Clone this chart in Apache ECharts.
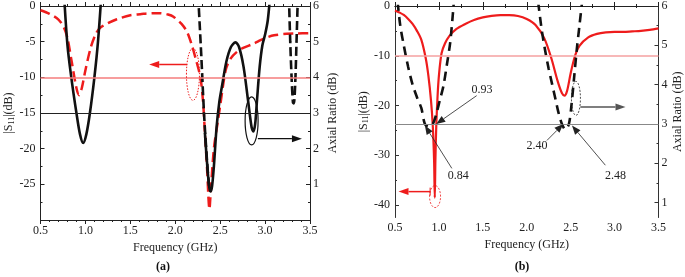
<!DOCTYPE html>
<html>
<head>
<meta charset="utf-8">
<script src="https://cdn.jsdelivr.net/npm/echarts@6/dist/echarts.min.js"></script>
<style>
html, body { margin: 0; padding: 0; background: #fff; }
#main { width: 685px; height: 277px; }
</style>
</head>
<body>
<div id="main"></div>
<script>
// (a) 反射系数 |S11| 红色虚线
var s11A = [
    [0.5, -0.6], [0.6, -1.1], [0.7, -1.9], [0.76, -3.0], [0.8, -4.5], [0.85, -8.0], [0.9, -11.5],
    [0.93, -12.5], [0.96, -11.5], [1.0, -9], [1.06, -5.8], [1.12, -3.8], [1.17, -3.0], [1.25, -2.4],
    [1.35, -1.85], [1.5, -1.3], [1.61, -1.15], [1.75, -1.0], [1.83, -1.0], [1.92, -1.2], [1.98, -1.5],
    [2.07, -2.5], [2.13, -3.6], [2.18, -5.3], [2.23, -7.5], [2.28, -10], [2.31, -13.5], [2.33, -17.8],
    [2.355, -23], [2.37, -27], [2.38, -28.5], [2.395, -26], [2.43, -20], [2.47, -16.5], [2.5, -14],
    [2.54, -10.5], [2.57, -8.6], [2.62, -7.3], [2.68, -6.5], [2.75, -5.9], [2.87, -5.3], [2.95, -4.8],
    [3.02, -4.4], [3.1, -4.1], [3.24, -3.9], [3.35, -3.85], [3.5, -3.8]
];
// (a) 轴比 AR 黑色实线
var arA = [
    [0.76, 6.4], [0.8, 4.9], [0.84, 4.05], [0.9, 3.0], [0.94, 2.4], [0.975, 2.16], [1.01, 2.4],
    [1.05, 3.0], [1.1, 4.0], [1.14, 5.0], [1.18, 6.4], null,
    [2.33, 2.45], [2.36, 1.4], [2.38, 0.9], [2.395, 0.8], [2.41, 0.95], [2.43, 1.5], [2.46, 2.6],
    [2.49, 3.3], [2.52, 3.75], [2.57, 4.45], [2.62, 4.85], [2.67, 4.98], [2.71, 4.85], [2.76, 4.3],
    [2.81, 3.36], [2.85, 2.6], [2.87, 2.48], [2.89, 2.7], [2.91, 3.36], [2.94, 4.3], [2.97, 4.9],
    [3.0, 5.2], [3.03, 5.6], [3.06, 6.4]
];
// (a) 轴比 黑色虚线
var arDashA = [
    [2.255, 6.3], [2.29, 4.6], [2.32, 3.0], [2.35, 1.8], [2.375, 1.0], [2.39, 0.8], null,
    [3.265, 6.3], [3.28, 5.0], [3.295, 4.0], [3.31, 3.3], [3.32, 3.27], [3.335, 3.8], [3.35, 5.0], [3.365, 6.3]
];
// (b) 反射系数 红色实线
var s11B = [
    [0.5, -0.9], [0.55, -1.3], [0.6, -1.8], [0.65, -2.6], [0.7, -3.6], [0.75, -5.0], [0.8, -6.8],
    [0.85, -10.5], [0.88, -14], [0.91, -19], [0.93, -24], [0.945, -31], [0.953, -38.5], [0.96, -31],
    [0.97, -24], [0.985, -18], [1.0, -14], [1.03, -9.5], [1.07, -7.5], [1.12, -6], [1.2, -4.6],
    [1.3, -3.6], [1.4, -2.8], [1.5, -2.3], [1.6, -2.0], [1.7, -1.85], [1.8, -1.85], [1.9, -2.0],
    [2.0, -2.6], [2.1, -3.8], [2.2, -6.5], [2.28, -10.5], [2.35, -15], [2.4, -17.5], [2.43, -18],
    [2.46, -17], [2.5, -13.5], [2.55, -10], [2.6, -8], [2.7, -6.3], [2.8, -5.6], [2.9, -5.3],
    [3.0, -5.2], [3.1, -5.2], [3.2, -5.1], [3.3, -5.0], [3.4, -4.8], [3.5, -4.5]
];
// (b) 轴比 黑色虚线
var arB = [
    [0.53, 6.1], [0.56, 5.5], [0.6, 5.0], [0.65, 4.45], [0.7, 4.0], [0.75, 3.68], [0.8, 3.4],
    [0.84, 3.0], [0.885, 2.93], [0.93, 3.0], [0.97, 3.25], [1.01, 3.6], [1.05, 3.95], [1.09, 4.5],
    [1.13, 5.1], [1.17, 6.1], null,
    [2.13, 6.1], [2.17, 5.4], [2.21, 4.86], [2.25, 4.4], [2.29, 4.0], [2.33, 3.6], [2.36, 3.3],
    [2.40, 3.0], [2.44, 2.86], [2.48, 3.0], [2.51, 3.5], [2.54, 4.2], [2.57, 4.9], [2.6, 5.5], [2.63, 6.1]
];
// 刻度
var s11TicksB = [0, -10, -20, -30, -40];
var s11MinorB = [-5, -15, -25, -35];
var arTicksB = [1, 2, 3, 4, 5, 6];
var arMinorB = [1.5, 2.5, 3.5, 4.5, 5.5];
// 标注频点
var bandLabels = ['0.93', '0.84', '2.40', '2.48'];

var myChart = echarts.init(document.getElementById('main'));

var FONT = 'Liberation Serif';
var RED = '#ee1c1c';

function xAx(grid, pos, interval, minorSplit, showLabel, margin, nameGap) {
    return {
        type: 'value', gridIndex: grid, position: pos, min: 0.5, max: 3.5, interval: interval,
        name: showLabel ? 'Frequency (GHz)' : '', nameLocation: 'middle', nameGap: nameGap,
        nameTextStyle: { fontFamily: FONT, fontSize: 12, color: '#222' },
        axisLine: { show: true, lineStyle: { color: '#222', width: 1 } },
        axisTick: { show: true, inside: true, length: 4, lineStyle: { color: '#222' } },
        minorTick: { show: true, splitNumber: minorSplit, length: 2, lineStyle: { color: '#222' } },
        axisLabel: {
            show: showLabel, margin: margin, fontFamily: FONT, fontSize: 12, color: '#222',
            formatter: function (v) { return v.toFixed(1); }
        },
        splitLine: { show: false }
    };
}

function yLab(fmt, margin, custom) {
    var o = { fontFamily: FONT, fontSize: 12, color: '#222', margin: margin };
    if (fmt) o.formatter = fmt;
    if (custom) o.customValues = custom;
    return o;
}

var s11Name = '|S{sub|11}|(dB)';
var s11NameStyle = {
    fontFamily: FONT, fontSize: 12, color: '#222',
    rich: { sub: { fontFamily: FONT, fontSize: 8, color: '#222', padding: [5, 0, 0, 0] } }
};

var option = {
    animation: false,
    backgroundColor: '#fff',
    grid: [
        { left: 40.5, top: 5, width: 269.5, height: 215 },
        { left: 395, top: 5, width: 263.5, height: 212.5 }
    ],
    xAxis: [
        xAx(0, 'bottom', 0.5, 5, true, 5, 17),
        xAx(0, 'top', 0.5, 5, false, 5, 0),
        xAx(1, 'bottom', 0.5, 2, true, 4, 15),
        xAx(1, 'top', 0.5, 2, false, 4, 0)
    ],
    yAxis: [
        {
            type: 'value', gridIndex: 0, position: 'left', min: -30, max: 0, interval: 5,
            name: s11Name, nameLocation: 'middle', nameGap: 24, nameRotate: 90, nameTextStyle: s11NameStyle,
            axisLine: { show: true, lineStyle: { color: '#222' } },
            axisTick: { inside: true, length: 4 },
            minorTick: { show: true, splitNumber: 2, length: 2 },
            axisLabel: yLab(function (v) { return v === -30 ? '' : String(v); }, 5),
            splitLine: { show: false }
        },
        {
            type: 'value', gridIndex: 0, position: 'right', min: 0, max: 6, interval: 1,
            name: 'Axial Ratio (dB)', nameLocation: 'middle', nameGap: 17, nameRotate: 90,
            nameTextStyle: { fontFamily: FONT, fontSize: 12, color: '#222' },
            axisLine: { show: true, lineStyle: { color: '#222' } },
            axisTick: { inside: true, length: 4 },
            minorTick: { show: true, splitNumber: 2, length: 2 },
            axisLabel: yLab(function (v) { return v === 0 ? '' : String(v); }, 3),
            splitLine: { show: false }
        },
        {
            type: 'value', gridIndex: 1, position: 'left', min: -42.5, max: 0,
            name: s11Name, nameLocation: 'middle', nameGap: 24, nameRotate: 90, nameTextStyle: s11NameStyle,
            axisLine: { show: true, lineStyle: { color: '#333' } },
            axisTick: { inside: true, length: 4, customValues: s11TicksB },
            axisLabel: yLab(null, 5, s11TicksB),
            splitLine: { show: false }
        },
        {
            type: 'value', gridIndex: 1, position: 'right', min: 0.62, max: 6,
            name: 'Axial Ratio (dB)', nameLocation: 'middle', nameGap: 13, nameRotate: 90,
            nameTextStyle: { fontFamily: FONT, fontSize: 12, color: '#222' },
            axisLine: { show: true, lineStyle: { color: '#333' } },
            axisTick: { inside: true, length: 4, customValues: arTicksB },
            axisLabel: yLab(null, 3, arTicksB),
            splitLine: { show: false }
        },
        // 次刻度 (b)
        {
            type: 'value', gridIndex: 1, position: 'left', min: -42.5, max: 0,
            axisLine: { show: false }, axisLabel: { show: false },
            axisTick: { show: true, inside: true, length: 2, customValues: s11MinorB, lineStyle: { color: '#333' } },
            splitLine: { show: false }
        },
        {
            type: 'value', gridIndex: 1, position: 'right', min: 0.62, max: 6,
            axisLine: { show: false }, axisLabel: { show: false },
            axisTick: { show: true, inside: true, length: 2, customValues: arMinorB, lineStyle: { color: '#333' } },
            splitLine: { show: false }
        }
    ],
    series: [
        {
            name: 'S11 a', type: 'line', xAxisIndex: 0, yAxisIndex: 0, data: s11A,
            showSymbol: false, smooth: 0.3, z: 3,
            lineStyle: { color: RED, width: 2.5, type: [10, 5] },
            markLine: {
                silent: true, symbol: 'none', label: { show: false },
                lineStyle: { color: '#f47c7c', width: 1.5, type: 'solid', opacity: 1 },
                data: [{ yAxis: -10 }]
            }
        },
        {
            name: 'AR a', type: 'line', xAxisIndex: 0, yAxisIndex: 1, data: arA,
            showSymbol: false, smooth: 0.3, z: 4,
            lineStyle: { color: '#111', width: 2.6 },
            markLine: {
                silent: true, symbol: 'none', label: { show: false },
                lineStyle: { color: '#222', width: 1, type: 'solid' },
                data: [{ yAxis: 3 }]
            }
        },
        {
            name: 'AR dash a', type: 'line', xAxisIndex: 0, yAxisIndex: 1, data: arDashA,
            showSymbol: false, smooth: 0.3, z: 4,
            lineStyle: { color: '#111', width: 2.6, type: [9, 4] }
        },
        {
            name: 'S11 b', type: 'line', xAxisIndex: 2, yAxisIndex: 2, data: s11B,
            showSymbol: false, smooth: 0.3, z: 3,
            lineStyle: { color: RED, width: 2.2 },
            markLine: {
                silent: true, symbol: 'none', label: { show: false },
                lineStyle: { color: '#f4a0a0', width: 1.5, type: 'solid' },
                data: [{ yAxis: -10 }]
            }
        },
        {
            name: 'AR b', type: 'line', xAxisIndex: 2, yAxisIndex: 3, data: arB,
            showSymbol: false, smooth: 0.3, z: 4,
            lineStyle: { color: '#111', width: 2.6, type: [9, 6] },
            markLine: {
                silent: true, symbol: 'none', label: { show: false },
                lineStyle: { color: '#888', width: 1.2, type: 'solid' },
                data: [{ yAxis: 3 }]
            }
        }
    ]
};

myChart.setOption(option);

// 标注（数据坐标 -> 像素）
function px(xi, yi, p) {
    return myChart.convertToPixel({ xAxisIndex: xi, yAxisIndex: yi }, p);
}
function arrow(xi, yi, from, to, color, width, head) {
    var a = px(xi, yi, from), b = px(xi, yi, to);
    var dx = b[0] - a[0], dy = b[1] - a[1], len = Math.sqrt(dx * dx + dy * dy);
    var ux = dx / len, uy = dy / len, hl = head[0], hw = head[1];
    var bx = b[0] - ux * hl, by = b[1] - uy * hl;
    return [
        { type: 'line', shape: { x1: a[0], y1: a[1], x2: bx, y2: by }, style: { stroke: color, lineWidth: width }, z: 10 },
        {
            type: 'polygon', z: 10,
            shape: { points: [[b[0], b[1]], [bx - uy * hw, by + ux * hw], [bx + uy * hw, by - ux * hw]] },
            style: { fill: color }
        }
    ];
}
function ellipse(xi, yi, c, rx, ry, color, dash, width) {
    var p = px(xi, yi, c);
    return {
        type: 'ellipse', z: 10, shape: { cx: p[0], cy: p[1], rx: rx, ry: ry },
        style: { fill: 'none', stroke: color, lineWidth: width, lineDash: dash }
    };
}
function text(xi, yi, c, t) {
    var p = px(xi, yi, c);
    return {
        type: 'text', z: 10, x: p[0], y: p[1],
        style: { text: t, fontFamily: FONT, fontSize: 12, fill: '#222', align: 'center', verticalAlign: 'middle' }
    };
}

var g = [];
// (a)
g.push(ellipse(0, 0, [2.197, -9.58], 6.5, 26, RED, [1.5, 1.5], 1));
g = g.concat(arrow(0, 0, [2.133, -8.2], [1.71, -8.2], RED, 1.5, [10, 3.5]));
g.push(ellipse(0, 1, [2.85, 2.78], 6.5, 24, '#111', null, 1.2));
g = g.concat(arrow(0, 1, [2.92, 2.28], [3.41, 2.28], '#111', 1.2, [10, 3.5]));
// (b)
g = g.concat(arrow(2, 3, [1.43, 3.72], [0.97, 3.0], '#222', 0.8, [9, 3.5]));
g = g.concat(arrow(2, 3, [1.147, 1.87], [0.84, 2.96], '#222', 0.8, [9, 3.5]));
g = g.concat(arrow(2, 3, [2.23, 2.58], [2.416, 3.0], '#222', 0.8, [9, 3.5]));
g = g.concat(arrow(2, 3, [2.895, 1.95], [2.515, 2.96], '#222', 0.8, [9, 3.5]));
g.push(text(2, 3, [1.49, 3.87], bandLabels[0]));
g.push(text(2, 3, [1.22, 1.68], bandLabels[1]));
g.push(text(2, 3, [2.116, 2.44], bandLabels[2]));
g.push(text(2, 3, [3.01, 1.68], bandLabels[3]));
g.push(ellipse(2, 3, [2.56, 3.65], 4.5, 17, '#222', [2, 1.5], 0.8));
g = g.concat(arrow(2, 3, [2.61, 3.43], [3.124, 3.43], '#555', 1.5, [10, 3.5]));
g = g.concat(arrow(2, 2, [0.9, -37.3], [0.54, -37.3], RED, 1.5, [10, 3.5]));
var bar1 = px(2, 2, [0.9, -37.3]);
g.push({ type: 'line', z: 10, shape: { x1: bar1[0], y1: bar1[1] - 4, x2: bar1[0], y2: bar1[1] + 4 }, style: { stroke: RED, lineWidth: 1 } });
g.push(ellipse(2, 2, [0.956, -38.3], 5.5, 11, RED, [2, 1.5], 0.8));
// 子图标题
g.push({ type: 'text', z: 10, x: 163, y: 267, style: { text: '(a)', fontFamily: FONT, fontSize: 12, fontWeight: 'bold', fill: '#111', align: 'center', verticalAlign: 'middle' } });
g.push({ type: 'text', z: 10, x: 522, y: 267, style: { text: '(b)', fontFamily: FONT, fontSize: 12, fontWeight: 'bold', fill: '#111', align: 'center', verticalAlign: 'middle' } });

myChart.setOption({ graphic: g });
</script>
</body>
</html>
